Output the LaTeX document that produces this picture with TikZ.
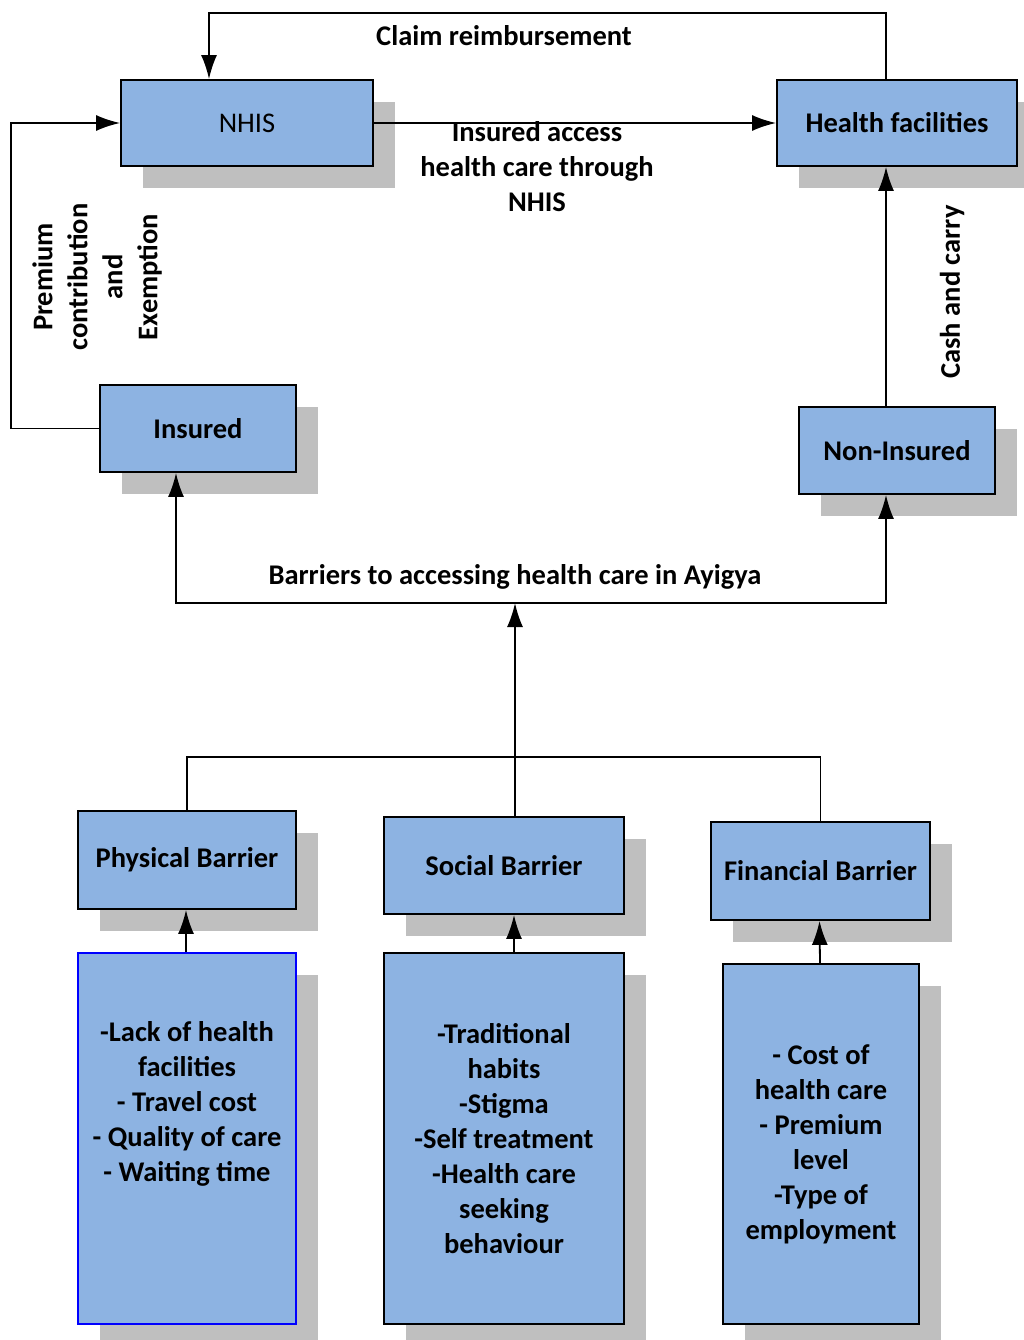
\documentclass[tikz,border=0pt]{standalone}
\usepackage{fontspec}
\setmainfont{Carlito}
\usepackage{tikz}
\usetikzlibrary{arrows.meta,positioning,calc,shadows}
\definecolor{boxblue}{HTML}{8DB3E2}
\definecolor{shade}{HTML}{BFBFBF}

\begin{document}
\begin{tikzpicture}[x=1pt,y=-1pt,
	line width=1.8pt,
	txt/.style={font=\fontsize{28.5}{35}\selectfont\bfseries, align=center, inner sep=0pt},
	box/.style={draw, fill=boxblue, txt, minimum width=#1,
		drop shadow={shadow xshift=22pt, shadow yshift=-22pt, fill=shade, opacity=1}},
	arr/.style={-{Latex[length=24pt,width=16pt]}}]
		\useasboundingbox (0,0) rectangle (1023,1340);
		% top row
		\node[box=252, minimum height=86, font=\fontsize{28.5}{35}\selectfont] (nhis) at (247,123) {NHIS};
		\node[box=240, minimum height=86] (hf) at (897,123) {Health facilities};
		\node[box=196, minimum height=87] (ins) at (198,428.5) {Insured};
		\node[box=196, minimum height=87] (non) at (897,450.5) {Non-Insured};
		% barriers
		\node[box=218, minimum height=98] (phys) at (187,860) {Physical Barrier};
		\node[box=240, minimum height=97] (soc) at (504,865.5) {Social Barrier};
		\node[box=219, minimum height=98] (fin) at (820.5,871) {Financial Barrier};
		\node[box=218, minimum height=371, draw=blue, line width=2.2pt] (physlist) at (187,1138.5) {};
		\node[txt] (physitems) at (187,1104) {-Lack of health\\facilities\\- Travel cost\\- Quality of care\\- Waiting time};
		\node[box=240, minimum height=371] (soclist) at (504,1138.5) {-Traditional\\habits\\-Stigma\\-Self treatment\\-Health care\\seeking\\behaviour};
		\node[box=196, minimum height=360] (finlist) at (821,1144) {- Cost of\\health care\\- Premium\\level\\-Type of\\employment};
		% labels
		\node[txt] (claim) at (504,36) {Claim reimbursement};
		\node[txt] (access) at (537,167) {Insured access\\health care through\\NHIS};
		\node[txt, rotate=90] (premium) at (97,277) {Premium\\contribution\\and\\Exemption};
		\node[txt, rotate=90] (cash) at (952,292) {Cash and carry};
		\node[txt] (barlabel) at (515,577) {Barriers to accessing health care in Ayigya};
		\coordinate (bar) at (515,603);
		\coordinate (join) at (515,757);
		% connectors
		\draw[arr] ([xshift=-11pt]hf.north) -- ++(0,-66) -| ([xshift=-38pt]nhis.north);
		\draw[arr] (nhis.east) -- (hf.west);
		\draw[arr] (ins.west) -- ++(-88,0) |- (nhis.west);
		\draw[arr] ([xshift=-11pt]non.north) -- ([xshift=-11pt]hf.south);
		\draw[arr] (bar) -| ([xshift=-22pt]ins.south);
		\draw[arr] (bar) -| ([xshift=-11pt]non.south);
		\draw[arr] (join) -- (bar);
		\draw (phys.north) |- (join) -| (fin.north);
		\draw ([xshift=11pt]soc.north) -- (join);
		\draw[arr] ([xshift=-1pt]physlist.north) -- ([xshift=-1pt]phys.south);
		\draw[arr] ([xshift=10pt]soclist.north) -- ([xshift=10pt]soc.south);
		\draw[arr] ([xshift=-1pt]finlist.north) -- ([xshift=-1pt]fin.south);
		\end{tikzpicture}
\end{document}
